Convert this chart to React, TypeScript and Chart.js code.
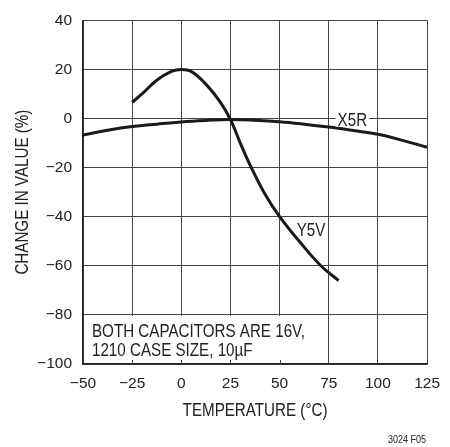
import React, { useEffect, useRef } from "react";
import { Chart, registerables } from "chart.js";

Chart.register(...registerables);

const xTicks = [-50, -25, 0, 25, 50, 75, 100, 125];
const yTicks = [-100, -80, -60, -40, -20, 0, 20, 40];

const x5rTemp = [-50, -37.5, -25, -12.5, 0, 12.5, 25, 37.5, 50, 62.5, 75, 87.5, 100, 112.5, 125];
const x5rValue = [-6.7, -4.8, -3.3, -2.3, -1.4, -0.8, -0.4, -0.7, -1.3, -2.3, -3.5, -4.9, -6.4, -8.9, -11.7];

const y5vTemp = [-25, -20, -12.5, -5, 0, 5, 12.5, 20, 25, 30, 35, 42, 50, 60, 71, 80];
const y5vValue = [6.6, 10, 15.6, 19.2, 20, 19.2, 14, 6.5, -0.4, -10, -19, -30, -40, -50, -60, -66];

const x5rLabel = { text: "X5R", x: 87, y: 0, knockout: true };
const y5vLabel = { text: "Y5V", x: 66, y: -45, knockout: false };
const noteLines = ["BOTH CAPACITORS ARE 16V,", "1210 CASE SIZE, 10µF"];
const noteBox = { x0: -50, x1: 65, y0: -100, y1: -80 };
const xTitle = "TEMPERATURE (°C)";
const yTitle = "CHANGE IN VALUE (%)";
const footnote = "3024 F05";

const FAMILY = '"Liberation Sans", Arial, sans-serif';
const INK = "#222";
const SQUEEZE = 0.82;

const fmt = (v: number) => (v < 0 ? "\u2212" + Math.abs(v) : String(v));

function condensedText(
  ctx: CanvasRenderingContext2D,
  text: string,
  x: number,
  y: number,
  size: number,
  align: CanvasTextAlign,
  rotate = 0
) {
  ctx.save();
  ctx.translate(x, y);
  if (rotate) ctx.rotate(rotate);
  ctx.scale(SQUEEZE, 1);
  ctx.font = size + "px " + FAMILY;
  ctx.textAlign = align;
  ctx.textBaseline = "alphabetic";
  ctx.fillText(text, 0, 0);
  ctx.restore();
}

const decorPlugin = {
  id: "decor",
  beforeDatasetsDraw(chart: any) {
    const { ctx, scales } = chart;
    const xs = scales.x;
    const ys = scales.y;
    const left = xs.getPixelForValue(noteBox.x0);
    const right = xs.getPixelForValue(noteBox.x1);
    const top = ys.getPixelForValue(noteBox.y1);
    const bottom = ys.getPixelForValue(noteBox.y0);
    ctx.save();
    ctx.fillStyle = "#fff";
    ctx.fillRect(left + 1, top + 1, right - left - 1, bottom - top - 2);
    ctx.strokeStyle = "#444";
    ctx.lineWidth = 1;
    for (const t of xTicks) {
      if (t > noteBox.x0 && t < noteBox.x1) {
        const px = Math.round(xs.getPixelForValue(t)) + 0.5;
        ctx.beginPath();
        ctx.moveTo(px, bottom);
        ctx.lineTo(px, bottom - 4);
        ctx.stroke();
      }
    }
    ctx.fillStyle = INK;
    condensedText(ctx, noteLines[0], left + 9, top + 22, 18.5, "left");
    condensedText(ctx, noteLines[1], left + 9, top + 41, 18.5, "left");
    ctx.restore();
  },
  afterDatasetsDraw(chart: any) {
    const { ctx, scales } = chart;
    const xs = scales.x;
    const ys = scales.y;
    ctx.save();
    for (const lab of [x5rLabel, y5vLabel]) {
      const px = xs.getPixelForValue(lab.x);
      const py = ys.getPixelForValue(lab.y);
      if (lab.knockout) {
        ctx.font = "18.5px " + FAMILY;
        const w = ctx.measureText(lab.text).width * SQUEEZE;
        ctx.fillStyle = "#fff";
        ctx.fillRect(px - w / 2 - 2, py - 8, w + 4, 16);
      }
      ctx.fillStyle = INK;
      condensedText(ctx, lab.text, px, py + 7, 18.5, "center");
    }
    ctx.restore();
  },
  afterDraw(chart: any) {
    const { ctx, chartArea } = chart;
    ctx.save();
    ctx.fillStyle = INK;
    const cx = (chartArea.left + chartArea.right) / 2;
    const cy = (chartArea.top + chartArea.bottom) / 2;
    condensedText(ctx, xTitle, cx, chartArea.bottom + 52, 18.5, "center");
    condensedText(ctx, yTitle, 28, cy, 18.5, "center", -Math.PI / 2);
    condensedText(ctx, footnote, chartArea.right - 1, 443, 11, "right");
    ctx.restore();
  },
};

export default function App() {
  const ref = useRef<HTMLCanvasElement | null>(null);
  useEffect(() => {
    if (!ref.current) return;
    const chart = new Chart(ref.current, {
      type: "line",
      data: {
        datasets: [
          {
            label: "X5R",
            data: x5rTemp.map((t, i) => ({ x: t, y: x5rValue[i] })),
            borderColor: "#1a1a1a",
            borderWidth: 3,
            pointRadius: 0,
            tension: 0.4,
          },
          {
            label: "Y5V",
            data: y5vTemp.map((t, i) => ({ x: t, y: y5vValue[i] })),
            borderColor: "#1a1a1a",
            borderWidth: 3,
            pointRadius: 0,
            tension: 0.4,
          },
        ],
      },
      options: {
        animation: false,
        responsive: false,
        devicePixelRatio: 1,
        layout: { padding: { left: 0, right: 15, top: 13, bottom: 0 } },
        plugins: { legend: { display: false }, tooltip: { enabled: false } },
        scales: {
          x: {
            type: "linear",
            min: xTicks[0],
            max: xTicks[xTicks.length - 1],
            afterBuildTicks: (s: any) => {
              s.ticks = xTicks.map((v) => ({ value: v }));
            },
            afterFit: (s: any) => {
              s.height = 83;
            },
            ticks: {
              callback: (v: any) => fmt(Number(v)),
              font: { family: FAMILY, size: 15.5 },
              color: INK,
              padding: 10,
              maxRotation: 0,
            },
            grid: { color: "#444", lineWidth: 1, drawTicks: false },
            border: { color: "#222", width: 1.5 },
          },
          y: {
            type: "linear",
            min: yTicks[0],
            max: yTicks[yTicks.length - 1],
            afterBuildTicks: (s: any) => {
              s.ticks = yTicks.map((v) => ({ value: v }));
            },
            afterFit: (s: any) => {
              s.width = 83;
            },
            ticks: {
              callback: (v: any) => fmt(Number(v)),
              font: { family: FAMILY, size: 15.5 },
              color: INK,
              padding: 11,
            },
            grid: { color: "#444", lineWidth: 1, drawTicks: false },
            border: { color: "#222", width: 1.5 },
          },
        },
      },
      plugins: [decorPlugin],
    } as any);
    return () => chart.destroy();
  }, []);
  return (
    <div style={{ position: "absolute", left: 0, top: 0, width: 450, height: 447, background: "#fff" }}>
      <canvas ref={ref} width={450} height={447} aria-label="Change in value vs temperature for X5R and Y5V capacitors" />
    </div>
  );
}
